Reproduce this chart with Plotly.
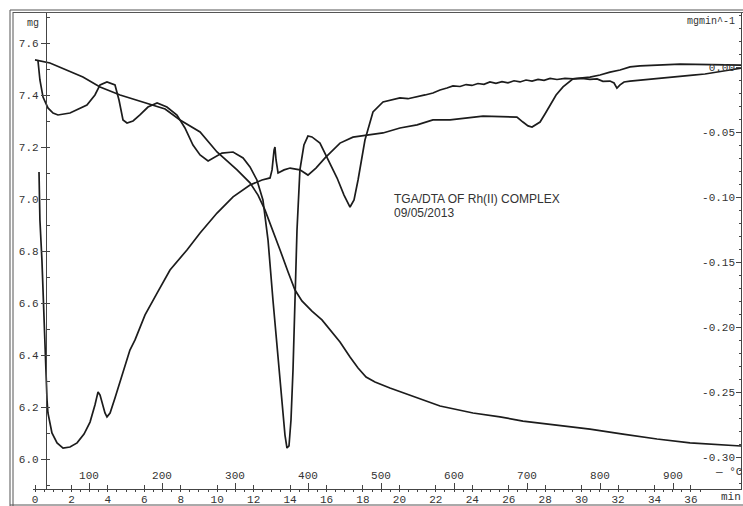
import plotly.graph_objects as go

W, H = 743, 506

# ---------------- data ----------------
# TGA: mass (mg) vs time (min)
tga_t = [0.00, 0.82, 2.63, 3.57, 4.67, 5.93, 7.14, 7.96, 9.06, 9.99, 11.09, 11.80,
         12.24, 12.62, 13.01, 13.45, 13.89, 14.27, 14.65, 15.20, 15.75, 16.19, 16.74,
         17.29, 17.73, 18.17, 18.66, 19.48, 20.97, 22.23, 24.04, 25.52, 26.78, 28.65,
         30.46, 32.27, 34.14, 35.95, 37.76, 38.75]
tga_mg = [7.535, 7.523, 7.469, 7.431, 7.400, 7.373, 7.346, 7.304, 7.258, 7.181, 7.112,
          7.062, 7.015, 6.958, 6.888, 6.804, 6.719, 6.650, 6.608, 6.569, 6.535, 6.496,
          6.450, 6.392, 6.350, 6.315, 6.296, 6.273, 6.235, 6.204, 6.177, 6.162, 6.146,
          6.131, 6.115, 6.096, 6.077, 6.062, 6.054, 6.050]

# DTG: mg/min vs time (min), right axis
dtg_t = [0.16, 0.27, 0.44, 0.71, 0.99, 1.26, 1.92, 2.85, 3.29, 3.57, 3.95, 4.39, 4.61,
         4.83, 5.05, 5.38, 5.76, 6.20, 6.70, 7.24, 7.79, 8.23, 8.67, 9.06, 9.50, 9.88,
         10.26, 10.87, 11.42, 11.80, 12.18, 12.51, 12.79, 13.06, 13.34, 13.56, 13.72,
         13.83, 13.94, 14.05, 14.16, 14.27, 14.38, 14.54, 14.76, 14.98, 15.20, 15.64,
         16.03, 16.58, 16.96, 17.29, 17.51, 17.73, 18.11, 18.55,
         19.10, 19.59, 20.03, 20.47, 20.97, 21.41, 21.84, 22.23, 22.61, 22.94, 23.33,
         23.66, 23.98, 24.31, 24.64, 24.97, 25.30, 25.63, 25.96, 26.29, 26.62, 26.95,
         27.28, 27.61, 27.94, 28.27, 28.65, 29.09, 29.53, 30.02, 30.46, 30.85, 31.17,
         31.56, 31.78, 31.94, 32.11, 32.33, 32.66, 33.21, 33.75, 34.30, 34.85, 35.40,
         36.11, 36.77, 37.60, 38.14, 38.75]
dtg_v = [0.0054, -0.0100, -0.0231, -0.0315, -0.0354, -0.0369, -0.0354, -0.0292, -0.0215,
         -0.0138, -0.0115, -0.0138, -0.0254, -0.0408, -0.0431, -0.0415, -0.0369, -0.0308,
         -0.0277, -0.0308, -0.0369, -0.0469, -0.0600, -0.0677, -0.0723, -0.0692, -0.0662,
         -0.0654, -0.0700, -0.0769, -0.0869, -0.1023, -0.1331, -0.1792, -0.2254, -0.2562,
         -0.2831, -0.2931, -0.2915, -0.2715, -0.2331, -0.1792, -0.1254, -0.0792, -0.0600,
         -0.0531, -0.0538, -0.0585, -0.0700, -0.0854, -0.0985, -0.1077, -0.1023, -0.0869,
         -0.0562, -0.0346,
         -0.0269, -0.0250, -0.0238, -0.0244, -0.0231, -0.0215, -0.0200, -0.0177, -0.0162,
         -0.0146, -0.0150, -0.0135, -0.0142, -0.0127, -0.0133, -0.0115, -0.0125, -0.0112,
         -0.0122, -0.0106, -0.0115, -0.0100, -0.0108, -0.0096, -0.0102, -0.0088, -0.0096,
         -0.0088, -0.0092, -0.0087, -0.0095, -0.0092, -0.0110, -0.0108, -0.0123, -0.0162,
         -0.0138, -0.0115, -0.0108, -0.0100, -0.0092, -0.0085, -0.0077, -0.0069, -0.0062,
         -0.0054, -0.0038, -0.0023, -0.0008]

# DTA trace (drawn against the mg scale, no own axis)
dta_t = [0.22, 0.27, 0.38, 0.44, 0.49, 0.55, 0.60, 0.66, 0.71, 0.93, 1.21, 1.54, 1.92,
         2.31, 2.69, 3.02, 3.29, 3.46, 3.57, 3.68, 3.84, 3.95, 4.12, 4.39, 4.83, 5.21,
         5.49, 6.04, 6.70, 7.41, 8.34, 9.06, 9.99, 10.87, 11.80, 12.46, 12.90, 13.01,
         13.12, 13.17, 13.23, 13.34, 13.67, 14.00, 14.54, 14.98, 15.42, 15.92, 16.74,
         17.45, 18.22, 19.10, 20.03, 20.97, 21.84, 22.78, 24.59, 25.80, 26.45, 26.78,
         27.06, 27.28, 27.50, 27.72, 27.99, 28.27, 28.60, 28.98, 29.53, 30.46, 31.01,
         31.56, 32.11, 32.66, 33.21, 35.40, 37.60, 38.75]
dta_v = [7.104, 6.919, 6.765, 6.638, 6.535, 6.419, 6.331, 6.227, 6.177, 6.100, 6.062,
         6.042, 6.046, 6.062, 6.096, 6.142, 6.208, 6.258, 6.246, 6.219, 6.177, 6.162,
         6.177, 6.235, 6.331, 6.419, 6.458, 6.554, 6.638, 6.727, 6.804, 6.869, 6.946,
         7.008, 7.054, 7.073, 7.081, 7.112, 7.188, 7.200, 7.150, 7.100, 7.112, 7.119,
         7.112, 7.092, 7.119, 7.158, 7.215, 7.238, 7.246, 7.254, 7.273, 7.285, 7.304,
         7.304, 7.319, 7.315, 7.315, 7.296, 7.281, 7.277, 7.285, 7.296, 7.327, 7.362,
         7.400, 7.431, 7.462, 7.469, 7.477, 7.488, 7.496, 7.508, 7.512, 7.519, 7.515,
         7.515]

time_ticks = list(range(0, 37, 2))
temp_ticks = [100, 200, 300, 400, 500, 600, 700, 800, 900]
mg_ticks = [6.0, 6.2, 6.4, 6.6, 6.8, 7.0, 7.2, 7.4, 7.6]
mg_ticktext = ["6.0", "6.2", "6.4", "6.6", "6.8", "7.0", "7.2", "7.4", "7.6"]
dtg_ticks = [0.00, -0.05, -0.10, -0.15, -0.20, -0.25, -0.30]
dtg_ticktext = ["0.00", "-0.05", "-0.10", "-0.15", "-0.20", "-0.25", "-0.30"]

# ---------------- figure ----------------
MONO = "Liberation Mono, DejaVu Sans Mono, monospace"
INK = "#1c1c1c"
AX = "#444444"
TXT = "#333333"

def px_x(p):
    return p / W

def px_y(p):
    return (H - p) / H

line_style = dict(color=INK, width=1.7)

fig = go.Figure()
fig.add_trace(go.Scatter(x=tga_t, y=tga_mg, mode="lines", line=line_style,
                         xaxis="x", yaxis="y", showlegend=False, hoverinfo="skip"))
fig.add_trace(go.Scatter(x=dta_t, y=dta_v, mode="lines", line=line_style,
                         xaxis="x", yaxis="y", showlegend=False, hoverinfo="skip"))
fig.add_trace(go.Scatter(x=dtg_t, y=dtg_v, mode="lines", line=line_style,
                         xaxis="x", yaxis="y2", showlegend=False, hoverinfo="skip"))
# invisible carrier for the temperature axis
fig.add_trace(go.Scatter(x=temp_ticks, y=[None] * len(temp_ticks), mode="lines",
                         xaxis="x2", yaxis="y", showlegend=False, hoverinfo="skip"))

x_dom = [px_x(33), px_x(741)]
y_dom = [px_y(489), px_y(12)]
mg_range = [6.0 - 30 / 260, 6.0 + 447 / 260]
dtg_range = [(67 - 489) / 1300, 55 / 1300]

fig.update_layout(
    template="none",
    width=W, height=H,
    margin=dict(l=0, r=0, t=0, b=0),
    paper_bgcolor="white", plot_bgcolor="white",
    showlegend=False,
    hovermode=False,
    xaxis=dict(
        domain=x_dom, range=[-0.110, 38.749], anchor="y",
        tickmode="array", tickvals=time_ticks,
        ticktext=[str(v) for v in time_ticks],
        showline=True, linecolor=AX, linewidth=1.3,
        ticks="inside", ticklen=4, tickcolor=AX, tickwidth=1,
        minor=dict(dtick=0.5, ticks="outside", ticklen=2, tickcolor=AX, showgrid=False),
        showgrid=False, zeroline=False,
        tickfont=dict(family=MONO, size=11, color=TXT),
        automargin=False,
    ),
    xaxis2=dict(
        overlaying="x", side="top", anchor="free", position=px_y(489),
        domain=x_dom, range=[23.29, 993.15],
        tickmode="array", tickvals=temp_ticks,
        ticktext=[str(v) for v in temp_ticks],
        ticks="outside", ticklen=6, tickcolor=AX, tickwidth=1.2,
        showline=False, showgrid=False, zeroline=False,
        tickfont=dict(family=MONO, size=11, color=TXT),
        automargin=False,
    ),
    yaxis=dict(
        domain=y_dom, range=mg_range, anchor="free", position=px_x(46),
        tickmode="array", tickvals=mg_ticks, ticktext=mg_ticktext,
        showline=True, linecolor=AX, linewidth=1.3,
        ticks="outside", ticklen=5, tickcolor=AX, tickwidth=1.2,
        minor=dict(dtick=0.1, ticks="inside", ticklen=3, tickcolor=AX, showgrid=False),
        showgrid=False, zeroline=False,
        tickfont=dict(family=MONO, size=11, color=TXT),
        automargin=False,
    ),
    yaxis2=dict(
        overlaying="y", side="right", anchor="x",
        range=dtg_range,
        tickmode="array", tickvals=dtg_ticks, ticktext=dtg_ticktext,
        ticklabelposition="inside",
        showline=True, linecolor=AX, linewidth=1.3,
        ticks="inside", ticklen=5, tickcolor=AX, tickwidth=1.2,
        minor=dict(dtick=0.01, ticks="inside", ticklen=2, tickcolor=AX, showgrid=False),
        showgrid=False, zeroline=False,
        tickfont=dict(family=MONO, size=11, color=TXT),
        automargin=False,
    ),
)

# frame (double border lines)
frame = dict(color="#555555", width=1)
shapes = [
    dict(type="line", xref="paper", yref="paper", x0=px_x(10), x1=px_x(10), y0=0, y1=px_y(10), line=frame),
    dict(type="line", xref="paper", yref="paper", x0=px_x(13), x1=px_x(13), y0=0, y1=px_y(12), line=frame),
    dict(type="line", xref="paper", yref="paper", x0=px_x(10), x1=1, y0=px_y(10), y1=px_y(10), line=frame),
    dict(type="line", xref="paper", yref="paper", x0=px_x(13), x1=1, y0=px_y(12.5), y1=px_y(12.5), line=frame),
    dict(type="line", xref="paper", yref="paper", x0=px_x(10), x1=1, y0=px_y(505), y1=px_y(505), line=frame),
]
fig.update_layout(shapes=shapes)

ann = [
    dict(text="mg", x=px_x(33), y=px_y(24), xanchor="center", yanchor="middle",
         font=dict(family=MONO, size=10, color=TXT)),
    dict(text="mgmin^-1", x=px_x(737), y=px_y(22), xanchor="right", yanchor="middle",
         font=dict(family=MONO, size=10, color=TXT)),
    dict(text="— °C", x=px_x(713), y=px_y(472), xanchor="left", yanchor="middle",
         font=dict(family=MONO, size=11, color=TXT)),
    dict(text="min", x=px_x(719), y=px_y(497), xanchor="left", yanchor="middle",
         font=dict(family=MONO, size=11, color=TXT)),
    dict(text="TGA/DTA OF Rh(II) COMPLEX", x=px_x(392), y=px_y(199), xanchor="left",
         yanchor="middle", font=dict(family="Liberation Sans, Arial, sans-serif", size=12, color=TXT)),
    dict(text="09/05/2013", x=px_x(392), y=px_y(213), xanchor="left",
         yanchor="middle", font=dict(family="Liberation Sans, Arial, sans-serif", size=12, color=TXT)),
]
for a in ann:
    a.update(xref="paper", yref="paper", showarrow=False)
fig.update_layout(annotations=ann)

fig.write_html("out.html")
